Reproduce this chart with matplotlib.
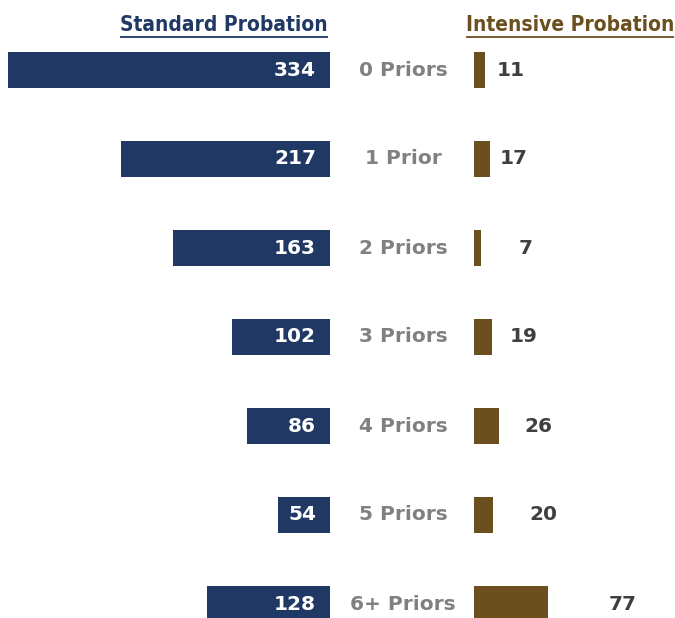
import matplotlib
matplotlib.use("Agg")
import matplotlib.pyplot as plt

categories = ["0 Priors", "1 Prior", "2 Priors", "3 Priors", "4 Priors", "5 Priors", "6+ Priors"]
standard = [334, 217, 163, 102, 86, 54, 128]
intensive = [11, 17, 7, 19, 26, 20, 77]

NAVY = "#1f3864"
BROWN = "#6b4f1f"
GRAY = "#808080"
DARK = "#3f3f3f"

PX = 0.964                 # pixels per unit
W, H = 675, 618
left0 = 330 / PX           # right edge of standard bars
right0 = 474 / PX          # left edge of intensive bars
mid = 403 / PX
label_gap = [12, 9, 38, 17, 25, 36, 60]   # px between intensive bar and its number

fig = plt.figure(figsize=(W / 100, H / 100), dpi=100)
ax = fig.add_axes([0, 0, 1, 1])
ax.set_xlim(0, W / PX)
ax.set_ylim((H - 70) / 89, -70 / 89)
ax.axis("off")

ys = list(range(len(categories)))
ax.barh(ys, [-v for v in standard], left=left0, height=36 / 89, color=NAVY)
ax.barh(ys, intensive, left=right0, height=36 / 89, color=BROWN)

num_font = dict(family="DejaVu Sans", fontweight="bold", fontsize=14.5)
for y, cat, s, i, g in zip(ys, categories, standard, intensive, label_gap):
    ax.text(left0 - 14 / PX, y, str(s), color="white", ha="right", va="center", **num_font)
    ax.text(mid, y, cat, color=GRAY, ha="center", va="center", **num_font)
    ax.text(right0 + i + g / PX, y, str(i), color=DARK, ha="left", va="center", **num_font)

head_font = dict(family="DejaVu Sans", fontstretch="condensed", fontweight="bold", fontsize=15)
hy = (25 - 70) / 89
t1 = ax.text(328 / PX, hy, "Standard Probation", color=NAVY, ha="right", va="center", **head_font)
t2 = ax.text(674 / PX, hy, "Intensive Probation", color=BROWN, ha="right", va="center", **head_font)

# underline the headers
fig.canvas.draw()
inv = ax.transData.inverted()
uy = (37 - 70) / 89
for t, c in ((t1, NAVY), (t2, BROWN)):
    bb = t.get_window_extent().transformed(inv)
    ax.plot([bb.x0, bb.x1], [uy, uy], color=c, lw=1.3, solid_capstyle="butt")

fig.savefig("out.png", dpi=100)
